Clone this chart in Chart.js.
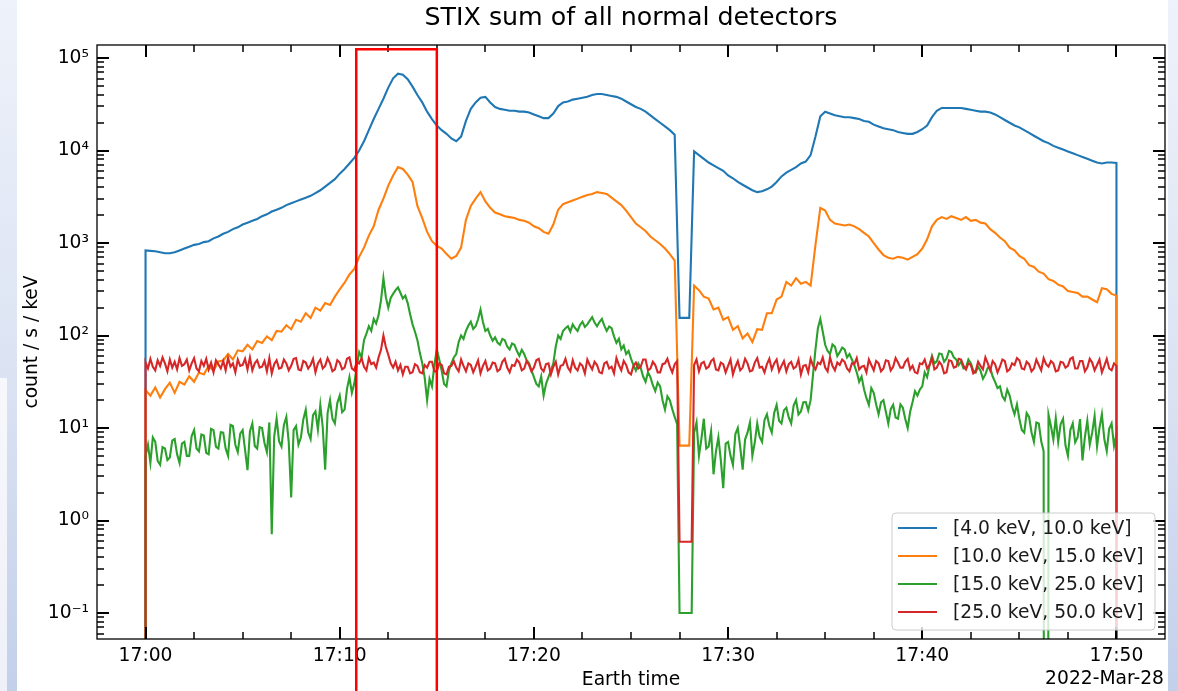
<!DOCTYPE html>
<html><head><meta charset="utf-8">
<script src="https://cdn.jsdelivr.net/npm/chart.js@4.4.1/dist/chart.umd.min.js"></script>
<style>
html,body{margin:0;padding:0;}
body{width:1178px;height:691px;overflow:hidden;position:relative;background:linear-gradient(180deg,#eef2fa 0%,#dbe3f3 55%,#c3d0ea 100%);}
#paper{position:absolute;left:17px;top:0;width:1151px;height:691px;background:#fff;}
#inset{position:absolute;left:0;top:378px;width:7px;height:313px;background:linear-gradient(180deg,#f7f8fc,#eef1f8);}
#c{position:absolute;left:0;top:0;}
</style></head><body>
<div id="paper"></div><div id="inset"></div>
<canvas id="c" width="1178" height="691" style="width:1178px;height:691px"></canvas>
<script>
// ---- data: time in minutes after 17:00, from 17:00 to 17:50
const tStep = 0.25;      // sampling of the two low-energy bands
const tStepFine = 0.125; // sampling of the two noisy high-energy bands
// zero counts (before the first and after the last sample, and dropouts) - below the log axis
const ZERO = 1e-30;
const titleText = 'STIX sum of all normal detectors';
const dateText = '2022-Mar-28';
const xTitle = 'Earth time';
const yTitle = 'count / s / keV';
const legendLabels = ['[4.0 keV, 10.0 keV]', '[10.0 keV, 15.0 keV]', '[15.0 keV, 25.0 keV]', '[25.0 keV, 50.0 keV]'];
const xMajorTicks = [0, 10, 20, 30, 40, 50];
const xTickLabels = ['17:00', '17:10', '17:20', '17:30', '17:40', '17:50'];
const xMinorStep = 2.5;
const yMajorTicks = [0.1, 1, 10, 100, 1000, 10000, 100000];
const yTickLabels = ['10\u207B\u00B9', '10\u2070', '10\u00B9', '10\u00B2', '10\u00B3', '10\u2074', '10\u2075'];
const xRange = [-2.5, 52.5];
const yRange = [0.0524, 138200];
// highlighted interval (minutes after 17:00) and its top (counts)
const boxStartMin = 10.85;
const boxEndMin = 15.0;
const boxTopValue = 124000;

const band4to10 = [
832,822,813,794, 776,776,794,832, 871,912,955,977, 1023,1047,1122,1175, 1259,1318,1413,1479, 1585,1660,1738,1820, 1950,2042,2188,2291, 2399,2570,2692,2818, 2951,3090,3236,3467, 3715,4074,4467,4898,
5623,6310,7244,8318, 10000,12590,16600,21880, 28180,36310,47860,60260, 67610,66070,58880,48980, 39810,33110,26300,21880, 18620,16600,15140,13490, 12590,14130,20890,28180, 33110,37150,38020,33110, 29510,28180,27540,26920, 26920,26300,26300,25700,
24550,23440,22390,22390, 25120,30200,33110,33880, 35480,36310,37150,38020, 39810,40740,40740,39810, 38900,38020,36310,33880, 31620,29510,28180,26300, 23990,21880,19950,18200, 16600,14790,155,155, 155,9772,8913,8128, 7413,6918,6457,6026,
5370,5012,4571,4266, 3981,3715,3548,3631, 3802,4074,4571,5248, 5754,6166,6607,7244, 7586,8913,14130,23440, 26300,25120,23990,23440, 22910,22910,22390,21880, 20890,20420,19050,18200, 17380,16980,16600,15850, 15490,15140,15140,15850,
16980,18620,22910,26920, 28840,28840,28840,28840, 28840,28180,27540,26920, 26300,26300,25700,24550, 22910,21380,19950,18620, 17780,16600,15490,14450, 13490,12590,12020,11220, 10720,10230,9772,9333, 8913,8511,8128,7762, 7413,7244,7413,7413,
7350];

const band10to15 = [
25.7,22.4,27.5,21.4, 26.3,30.9,24.0,31.6, 29.5,36.3,31.6,39.8, 38.0,46.8,41.7,52.5, 53.7,63.1,55.0,69.2, 67.6,79.4,70.8,87.1, 83.2,97.7,89.1,112, 110,129,117,148, 141,174,155,200, 186,224,214,263,
316,372,457,525, 708,891,1202,1514, 2291,3020,4169,5370, 6607,6310,5495,4571, 2512,1862,1318,1047, 933,871,759,676, 724,891,1778,2512, 3020,3548,2818,2399, 2138,2042,1950,1905, 1862,1778,1738,1660,
1514,1445,1318,1259, 1585,2291,2630,2754, 2884,3020,3162,3311, 3388,3548,3467,3388, 3090,2818,2570,2239, 1905,1622,1479,1349, 1175,1072,977,871, 759,646,6.46,6.46, 6.46,347,309,263, 251,191,200,148,
158,115,126,93.3, 105,85.1,117,115, 174,174,245,263, 380,347,417,363, 380,347,955,2399, 2239,1778,1622,1585, 1549,1585,1514,1413, 1288,1175,1000,851, 741,692,676,708, 692,661,708,759,
871,1096,1514,1778, 1905,1820,1950,1862, 1778,1905,1738,1778, 1660,1622,1413,1288, 1148,1047,891,832, 724,676,575,550, 490,468,407,389, 355,339,302,295, 288,263,263,245, 229,324,316,282,
270];

const band15to25 = [
5.0,6.6,4.2,7.9,7.1,4.4,4.0,6.2, 6.0,4.5,4.8,7.3,7.6,5.2,4.2,6.8, 7.1,5.0,5.0,8.2,9.5,6.0,5.6,8.5, 8.3,5.4,5.2,9.8,9.5,6.3,6.0,9.0, 8.9,6.0,5.0,10.8,10.5,6.6,5.5,8.7,
9.5,5.8,3.5,9.2,11.2,6.4,6.0,10.2, 10.0,6.9,5.5,11.5,0.71,8.1,12.6,7.2, 6.3,10.8,13.2,7.0,1.78,9.5,10.5,6.6, 7.9,12.4,15.8,9.0,7.6,13.8,15.1,9.6, 17.8,10.2,3.55,14.5,20.0,12.6,11.2,18.6,
22.4,14.8,15.8,26.5,35.5,24.0,30.2,46.0, 66.1,58,89.1,105,126,112,151,135, 166,240,417,260,200,255,282,310, 331,290,251,270,224,170,132,110, 89.1,65,50.1,35,20.0,34,28.2,48,
70.8,55,41.7,30,28.2,42,50.1,58, 63.1,85,100,92,112,128,141,118, 126,150,191,140,112,118,100,88, 95.5,84,79.4,92,89.1,76,70.8,82, 79.4,68,60.3,70,63.1,54,50.1,42,
35.5,30,28.2,36,22.4,30,35.5,42, 50.1,76,100,92,112,120,126,110, 132,120,112,130,141,124,132,145, 158,138,126,140,151,128,112,125, 120,98,83.2,92,70.8,78,63.1,68,
56.2,48,41.7,50,44.7,36,31.6,40, 35.5,29,25.1,31,28.2,20,15.8,22, 20.0,16,13.2,11,0.1,0.1,0.1,0.1, 0.1,0.1,8.91,11.5,5.01,7.6,12.6,6.0, 6.31,9.2,3.16,5.6,7.94,4.5,2.24,6.8,
7.08,5.0,3.98,8.6,10,6.2,3.55,7.5, 8.91,11.5,5.01,7.0,11.2,8.0,7.08,12.2, 14.1,10.5,8.91,14.6,17.8,12.0,11.2,15.5, 16.6,13.0,11.2,17.5,20.0,14.0,15.1,19.0, 19.1,15.5,20.0,38,70.8,120,151,110,
79.4,68,63.1,80,75.9,60,66.1,74, 70.8,58,63.1,55,47.9,40,31.6,36, 26.3,21,17.8,27,24.0,18,14.1,19, 20.0,15,11.2,16,17.8,13,12.6,18, 16.6,12.5,10,15,19.1,25,22.4,26,
28.2,40,35.5,48,60.3,50,52.5,64, 63.1,52,56.2,68,66.1,58,55.0,48, 52.5,44,44.7,55,50.1,42,39.8,46, 41.7,34,38.0,45,44.7,36,31.6,27, 28.2,22,20.0,26,22.4,17,14.1,18,
12.6,9.5,8.91,14.5,13.2,9.0,7.08,11.5, 11.2,7.2,5.62,ZERO,14.0,10.5,7.5,12.8, 7.08,11.0,12.6,6.5,5.01,9.5,11.2,7.0, 7.94,12.5,4.47,8.0,12.0,6.6,8.91,13.5, 6.31,10.0,14.1,7.6,5.62,9.8,11.2,6.4,
8.5];

const band25to50 = [
51,44,56,46,42,54,47,58, 50,41,55,45,52,43,57,47, 49,55,42,50,57,44,41,53, 47,56,43,51,40,54,49,44, 53,42,57,46,50,40,55,47,
48,56,43,58,42,50,54,45, 46,53,41,57,39,49,54,44, 45,55,50,42,47,56,57,43, 42,53,51,44,48,56,40,50, 55,44,47,57,50,41,43,54,
51,43,45,56,58,44,42,52, 50,57,46,42,57,49,51,45, 58,70,100,75,62,50,45,52, 42,48,38,46,46,39,40,49, 47,40,39,48,45,52,52,41,
41,50,48,39,38,46,47,53, 45,41,55,47,41,50,48,40, 46,54,39,47,53,42,44,51, 50,41,43,52,56,45,40,48, 47,55,51,42,44,53,48,41,
45,54,56,44,41,49,50,38, 46,52,38,47,48,56,45,41, 54,45,42,50,47,39,55,48, 43,52,48,40,39,50,52,44, 46,39,57,48,42,53,48,40,
38,47,51,44,46,55,55,42, 44,52,48,40,40,49,50,56, 46,40,49,53,0.59,0.59,0.59,0.59, 0.59,0.59,48,55,41,50,52,44, 46,53,56,43,42,51,49,40,
47,55,38,46,53,42,45,56, 50,41,42,51,57,45,46,40, 49,56,43,50,55,41,47,53, 41,49,52,44,46,55,38,47, 48,40,56,47,43,51,49,58,
45,41,58,47,42,51,48,55, 52,44,41,50,49,57,43,46, 47,40,55,48,42,53,50,41, 44,54,53,42,46,57,51,45, 45,52,56,43,47,40,39,50,
49,55,44,48,57,43,45,52, 48,39,40,54,53,45,46,56, 55,47,43,50,48,39,41,52, 47,43,58,50,42,53,49,40, 46,55,53,41,43,50,48,57,
54,44,43,52,49,41,44,55, 48,42,57,49,46,53,50,41, 42,52,51,45,47,56,58,44, 44,53,53,41,45,56,51,42, 48,55,40,47,56,44,42,50,
47];

// ---- styling
const FONT = '"DejaVu Sans", sans-serif';
const FS = 18.7;
const colors = ['#1f77b4', '#ff7f0e', '#2ca02c', '#d62728'];
const seriesValues = [band4to10, band10to15, band15to25, band25to50];
const seriesSteps = [tStep, tStep, tStepFine, tStepFine];

const toPoints = (vals, step) => {
  const last = (vals.length - 1) * step;
  return [{x: 0, y: ZERO}, ...vals.map((v, i) => ({x: i * step, y: v})), {x: last, y: ZERO}];
};

const decoPlugin = {
  id: 'deco',
  afterDatasetsDraw(chart) {
    const {ctx, chartArea: a, scales: {x, y}} = chart;
    ctx.save();
    ctx.strokeStyle = '#000';
    const seg = (x1, y1, x2, y2, w) => { ctx.lineWidth = w; ctx.beginPath(); ctx.moveTo(x1, y1); ctx.lineTo(x2, y2); ctx.stroke(); };
    const MAJ = 12, MIN = 7;
    xMajorTicks.forEach(v => { const p = Math.round(x.getPixelForValue(v)); seg(p, a.bottom, p, a.bottom - MAJ, 2); seg(p, a.top, p, a.top + MAJ, 2); });
    for (let v = x.min + xMinorStep; v < x.max; v += xMinorStep) {
      if (xMajorTicks.includes(v)) continue;
      const p = Math.round(x.getPixelForValue(v));
      seg(p, a.bottom, p, a.bottom - MIN, 1.5); seg(p, a.top, p, a.top + MIN, 1.5);
    }
    yMajorTicks.forEach(v => { const p = Math.round(y.getPixelForValue(v)); seg(a.left, p, a.left + MAJ, p, 2); seg(a.right, p, a.right - MAJ, p, 2); });
    for (let d = 0.01; d <= 1e5; d *= 10) {
      for (let k = 2; k <= 9; k++) {
        const v = k * d;
        if (v <= y.min || v >= y.max) continue;
        const p = Math.round(y.getPixelForValue(v));
        seg(a.left, p, a.left + MIN, p, 1.5); seg(a.right, p, a.right - MIN, p, 1.5);
      }
    }
    ctx.lineWidth = 1.3;
    ctx.strokeRect(a.left, a.top, a.right - a.left, a.bottom - a.top);

    // legend
    const w = 263, h = 117;
    const lx = a.right - 10 - w, ly = a.bottom - 9 - h;
    ctx.beginPath();
    ctx.roundRect(lx, ly, w, h, 4);
    ctx.fillStyle = 'rgba(255,255,255,0.8)';
    ctx.fill();
    ctx.strokeStyle = '#cccccc';
    ctx.lineWidth = 1;
    ctx.stroke();
    ctx.font = FS + 'px ' + FONT;
    ctx.textBaseline = 'middle';
    ctx.textAlign = 'left';
    legendLabels.forEach((lab, i) => {
      const ry = ly + 15 + i * 28;
      ctx.strokeStyle = colors[i];
      ctx.lineWidth = 2;
      ctx.beginPath(); ctx.moveTo(lx + 6, ry); ctx.lineTo(lx + 45, ry); ctx.stroke();
      ctx.fillStyle = '#1a1a1a';
      ctx.fillText(lab, lx + 61, ry + 1);
    });

    // title and date
    ctx.fillStyle = '#000';
    ctx.font = '25.3px ' + FONT;
    ctx.textAlign = 'center';
    ctx.fillText(titleText, (a.left + a.right) / 2, 18);
    ctx.font = FS + 'px ' + FONT;
    ctx.textAlign = 'right';
    ctx.fillText(dateText, a.right - 1, 679);
    ctx.restore();
  },
  afterDraw(chart) {
    const {ctx, scales: {x, y}} = chart;
    const x1 = x.getPixelForValue(boxStartMin), x2 = x.getPixelForValue(boxEndMin), yt = y.getPixelForValue(boxTopValue);
    ctx.save();
    ctx.strokeStyle = '#ff0000';
    ctx.lineWidth = 2.5;
    ctx.beginPath();
    ctx.moveTo(x1, chart.height + 5); ctx.lineTo(x1, yt); ctx.lineTo(x2, yt); ctx.lineTo(x2, chart.height + 5);
    ctx.stroke();
    ctx.restore();
  }
};

new Chart(document.getElementById('c'), {
  type: 'line',
  data: {
    datasets: seriesValues.map((vals, i) => ({
      label: legendLabels[i],
      data: toPoints(vals, seriesSteps[i]),
      borderColor: colors[i],
      borderWidth: 2.1,
      pointRadius: 0,
      tension: 0,
      fill: false,
      order: 3 - i
    }))
  },
  options: {
    responsive: false,
    animation: false,
    devicePixelRatio: 1,
    layout: {padding: {top: 45, right: 13, bottom: 0, left: 0}},
    plugins: {legend: {display: false}, tooltip: {enabled: false}, title: {display: false}},
    scales: {
      x: {
        type: 'linear', min: xRange[0], max: xRange[1], bounds: 'data',
        grid: {display: false, drawTicks: false}, border: {display: false},
        afterBuildTicks: s => { s.ticks = xMajorTicks.map(v => ({value: v})); },
        afterFit: s => { s.height = 52; },
        ticks: {callback: v => { const i = xMajorTicks.indexOf(v); return i >= 0 ? xTickLabels[i] : ''; },
                font: {family: FONT, size: FS}, color: '#000', padding: 6, maxRotation: 0, autoSkip: false},
        title: {display: true, text: xTitle, font: {family: FONT, size: FS}, color: '#000', padding: {top: 0, bottom: 0}}
      },
      y: {
        type: 'logarithmic', min: yRange[0], max: yRange[1], bounds: 'data',
        grid: {display: false, drawTicks: false}, border: {display: false},
        afterBuildTicks: s => { s.ticks = yMajorTicks.map(v => ({value: v})); },
        afterFit: s => { s.width = 97; },
        ticks: {callback: v => { const i = yMajorTicks.indexOf(v); return i >= 0 ? yTickLabels[i] : ''; },
                font: {family: FONT, size: FS}, color: '#000', padding: 8, autoSkip: false},
        title: {display: true, text: yTitle, font: {family: FONT, size: FS}, color: '#000', padding: {top: 21, bottom: 0}}
      }
    }
  },
  plugins: [decoPlugin]
});
</script></body></html>
